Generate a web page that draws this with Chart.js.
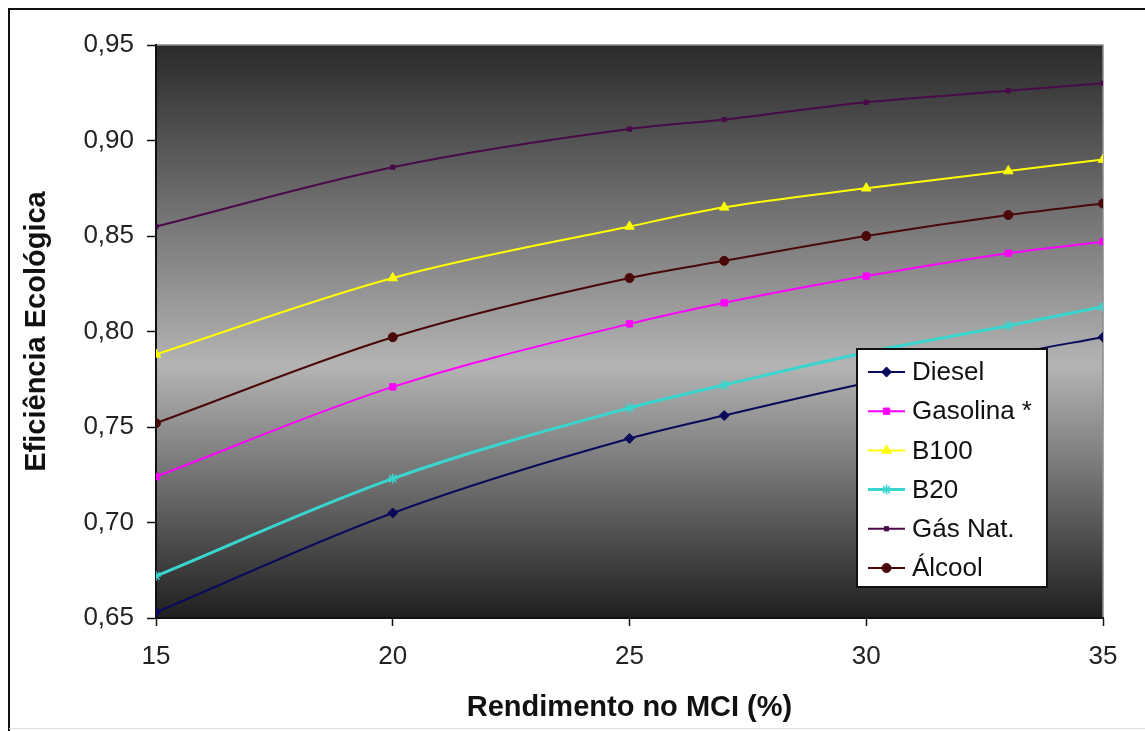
<!DOCTYPE html>
<html>
<head>
<meta charset="utf-8">
<script src="https://cdn.jsdelivr.net/npm/chart.js@4.4.0/dist/chart.umd.min.js"></script>
<style>
  html, body { margin: 0; padding: 0; background: #fff; }
  #wrap { width: 1145px; height: 731px; position: relative; }
</style>
</head>
<body>
<div id="wrap"><canvas id="chart"></canvas></div>
<script>
// Data
const rendimento = [15, 20, 25, 27, 30, 33, 35];
const diesel   = [0.653, 0.705, 0.744, 0.756, 0.773, 0.788, 0.797];
const gasolina = [0.724, 0.771, 0.804, 0.815, 0.829, 0.841, 0.847];
const b100     = [0.788, 0.828, 0.855, 0.865, 0.875, 0.884, 0.890];
const b20      = [0.672, 0.723, 0.760, 0.772, 0.789, 0.803, 0.813];
const gasNat   = [0.855, 0.886, 0.906, 0.911, 0.920, 0.926, 0.930];
const alcool   = [0.752, 0.797, 0.828, 0.837, 0.850, 0.861, 0.867];

const seriesNames = ['Diesel', 'Gasolina *', 'B100', 'B20', 'Gás Nat.', 'Álcool'];
const xTicks = [15, 20, 25, 30, 35];
const yTicks = [0.65, 0.70, 0.75, 0.80, 0.85, 0.90, 0.95];

const FONT = '"Liberation Sans", Arial, sans-serif';

function series(name, values, color, style, radius, width) {
    return {
        label: name,
        data: rendimento.map((x, i) => ({ x: x, y: values[i] })),
        borderColor: color,
        backgroundColor: color,
        borderWidth: width,
        pointStyle: style,
        pointRadius: radius,
        pointBackgroundColor: color,
        pointBorderColor: color,
        pointBorderWidth: 1,
        cubicInterpolationMode: 'monotone',
        fill: false
    };
}

const datasets = [
    series(seriesNames[0], diesel,   '#0a0a5c', 'rectRot',  5,   2),
    series(seriesNames[1], gasolina, '#ff00ff', 'rect',     4.5, 2),
    series(seriesNames[2], b100,     '#ffff00', 'triangle', 5.5, 2),
    series(seriesNames[3], b20,      '#38d6cf', 'star',     5,   3),
    series(seriesNames[4], gasNat,   '#4a0a4a', 'rect',     3,   2),
    series(seriesNames[5], alcool,   '#4a0808', 'circle',   4.5, 2)
];
datasets[3].pointBorderWidth = 1.5;

// white page, outer frame and gradient plot background
const frame = {
    id: 'frame',
    beforeDraw(chart) {
        const ctx = chart.ctx;
        const a = chart.chartArea;
        ctx.save();
        ctx.fillStyle = '#fff';
        ctx.fillRect(0, 0, chart.width, chart.height);

        ctx.strokeStyle = '#111';
        ctx.lineWidth = 2;
        ctx.beginPath();
        ctx.moveTo(9, chart.height);
        ctx.lineTo(9, 9);
        ctx.lineTo(chart.width, 9);
        ctx.stroke();
        ctx.strokeStyle = '#ddd';
        ctx.lineWidth = 1;
        ctx.beginPath();
        ctx.moveTo(9, chart.height - 2.5);
        ctx.lineTo(chart.width, chart.height - 2.5);
        ctx.stroke();

        const g = ctx.createLinearGradient(0, a.top, 0, a.bottom);
        g.addColorStop(0, '#2a2a2a');
        g.addColorStop(0.56, '#b4b4b4');
        g.addColorStop(1, '#1f1f1f');
        ctx.fillStyle = g;
        ctx.fillRect(a.left, a.top, a.right - a.left, a.bottom - a.top);

        ctx.strokeStyle = '#8a8a8a';
        ctx.lineWidth = 1.5;
        ctx.beginPath();
        ctx.moveTo(a.left, a.top);
        ctx.lineTo(a.right, a.top);
        ctx.lineTo(a.right, a.bottom);
        ctx.stroke();
        ctx.restore();
    }
};

// boxed legend inside the plot
const legendBox = {
    id: 'legendBox',
    afterDraw(chart) {
        const ctx = chart.ctx;
        const x0 = 857, y0 = 349, w = 190, h = 238;
        ctx.save();
        ctx.fillStyle = '#fff';
        ctx.fillRect(x0, y0, w, h);
        ctx.strokeStyle = '#111';
        ctx.lineWidth = 2;
        ctx.strokeRect(x0, y0, w, h);

        ctx.font = '26px ' + FONT;
        ctx.textBaseline = 'middle';
        ctx.textAlign = 'left';
        chart.data.datasets.forEach((ds, i) => {
            const y = y0 + 23 + i * 39.2;
            ctx.strokeStyle = ds.borderColor;
            ctx.lineWidth = ds.borderWidth;
            ctx.beginPath();
            ctx.moveTo(x0 + 11, y);
            ctx.lineTo(x0 + 48, y);
            ctx.stroke();
            ctx.fillStyle = ds.pointBackgroundColor;
            ctx.strokeStyle = ds.pointBorderColor;
            ctx.lineWidth = ds.pointBorderWidth;
            Chart.helpers.drawPoint(ctx, {
                pointStyle: ds.pointStyle,
                radius: ds.pointRadius,
                rotation: 0,
                borderWidth: ds.pointBorderWidth
            }, x0 + 29.5, y);
            ctx.fillStyle = '#111';
            ctx.fillText(ds.label, x0 + 55, y + 1);
        });
        ctx.restore();
    }
};

new Chart(document.getElementById('chart'), {
    type: 'line',
    data: { datasets: datasets },
    options: {
        responsive: true,
        maintainAspectRatio: false,
        animation: false,
        layout: { padding: { left: 10, top: 45, right: 42, bottom: 0 } },
        plugins: {
            legend: { display: false },
            tooltip: { enabled: false }
        },
        scales: {
            x: {
                type: 'linear',
                min: 15,
                max: 35,
                afterBuildTicks: s => { s.ticks = xTicks.map(v => ({ value: v })); },
                afterFit: s => { s.height = 113; },
                grid: { display: true, drawOnChartArea: false, drawTicks: true, tickLength: 8, tickColor: '#111', tickWidth: 1.5 },
                border: { display: true, color: '#111', width: 2 },
                ticks: {
                    padding: 15,
                    color: '#222',
                    font: { family: FONT, size: 26, lineHeight: 1.2 },
                    callback: v => String(v)
                },
                title: {
                    display: true,
                    text: 'Rendimento no MCI (%)',
                    color: '#111',
                    padding: { top: 0, bottom: 6 },
                    font: { family: FONT, size: 29, weight: 'bold', lineHeight: 1.2 }
                }
            },
            y: {
                min: 0.65,
                max: 0.95,
                afterBuildTicks: s => { s.ticks = yTicks.map(v => ({ value: v })); },
                afterFit: s => { s.width = 146; },
                grid: { display: true, drawOnChartArea: false, drawTicks: true, tickLength: 9, tickColor: '#111', tickWidth: 1.5 },
                border: { display: true, color: '#111', width: 2 },
                ticks: {
                    padding: 13,
                    color: '#222',
                    font: { family: FONT, size: 26, lineHeight: 1.2 },
                    callback: v => v.toFixed(2).replace('.', ',')
                },
                title: {
                    display: true,
                    text: 'Eficiência Ecológica',
                    color: '#111',
                    padding: { top: 10, bottom: 0 },
                    font: { family: FONT, size: 29, weight: 'bold', lineHeight: 1.2 }
                }
            }
        }
    },
    plugins: [frame, legendBox]
});
</script>
</body>
</html>
